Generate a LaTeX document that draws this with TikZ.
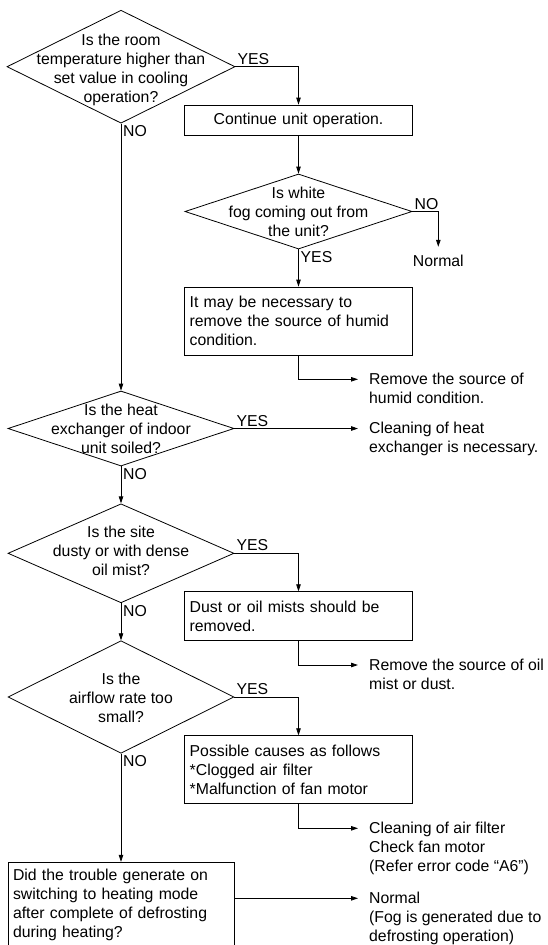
\documentclass[tikz,border=0pt]{standalone}
\usepackage{fontspec}
\setmainfont{Liberation Sans}
\usetikzlibrary{arrows.meta,shapes.geometric}

\newcommand{\fsize}{\fontsize{15.8}{19}\selectfont}

\begin{document}
\begin{tikzpicture}[
    x=1pt, y=-1pt,
    decide/.style={diamond, draw, line width=0.8pt, inner sep=0pt, minimum width=226pt},
    qtext/.style={align=center, font=\fsize, inner sep=0pt},
    stepbox/.style={rectangle, draw, line width=0.8pt, inner sep=5pt, text width=217.6pt, align=left, font=\fsize},
    result/.style={anchor=north west, align=left, font=\fsize, inner sep=0pt},
    yesno/.style={font=\fsize, inner sep=2pt},
    arrow/.style={-{Triangle[length=7pt,width=4.5pt]}, line width=0.8pt}
]
\useasboundingbox (0,0) rectangle (547,945);
\clip (0,0) rectangle (547,945);

% questions, left column
\node[decide, minimum width=228pt, minimum height=113pt] (room) at (121,66.7) {};
\node[qtext] (roomtxt) at (121,70) {Is the room\\temperature higher than\\set value in cooling\\operation?};
\node[decide, minimum height=75pt] (hex) at (121,428.5) {};
\node[qtext] (hextxt) at (hex) {Is the heat\\exchanger of indoor\\unit soiled?};
\node[decide, minimum height=99pt] (dust) at (121,553.3) {};
\node[qtext] (dusttxt) at (121,550.7) {Is the site\\dusty or with dense\\oil mist?};
\node[decide, minimum height=112.6pt] (flow) at (121,697) {};
\node[qtext] (flowtxt) at (121,698.3) {Is the\\airflow rate too\\small?};
\node[stepbox, text width=216pt, minimum height=86pt] (defrost) at (121,905.2) {Did the trouble generate on\\switching to heating mode\\after complete of defrosting\\during heating?};

% right column
\node[stepbox, align=center, minimum height=30pt] (cont) at (298.5,120) {Continue unit operation.};
\node[decide, minimum width=227pt, minimum height=75pt] (fog) at (298.5,211.5) {};
\node[qtext] (fogtxt) at (fog) {Is white\\fog coming out from\\the unit?};
\node[stepbox, minimum height=68pt] (humid) at (298.5,321) {It may be necessary to\\remove the source of humid\\condition.};
\node[stepbox, minimum height=49pt] (oil) at (298.5,616.2) {Dust or oil mists should be\\removed.};
\node[stepbox, minimum height=67.6pt] (causes) at (298.5,769.5) {Possible causes as follows\\{*}Clogged air filter\\{*}Malfunction of fan motor};

% results
\node[result, anchor=north] (normalA) at (438.3,255.3) {Normal};
\node[result] (rmhumid) at (369,373.3) {Remove the source of\\humid condition.};
\node[result] (cleanhex) at (369,422.3) {Cleaning of heat\\exchanger is necessary.};
\node[result] (rmoil) at (369,659) {Remove the source of oil\\mist or dust.};
\node[result] (cleanfilter) at (369,822.3) {Cleaning of air filter\\Check fan motor\\(Refer error code “A6”)};
\node[result] (normalB) at (369,892.3) {Normal\\(Fog is generated due to\\defrosting operation)};

% yes / no
\node[yesno, anchor=south west] (yes1) at (room.east) {YES};
\node[yesno, anchor=north west] (no1) at (room.south) {NO};
\node[yesno, anchor=south west] (no2) at (fog.east) {NO};
\node[yesno, anchor=north west] (yes2) at (fog.south) {YES};
\node[yesno, anchor=south west] (yes3) at (hex.east) {YES};
\node[yesno, anchor=north west] (no3) at (hex.south) {NO};
\node[yesno, anchor=south west] (yes4) at (dust.east) {YES};
\node[yesno, anchor=north west] (no4) at (dust.south) {NO};
\node[yesno, anchor=south west] (yes5) at (flow.east) {YES};
\node[yesno, anchor=north west] (no5) at (flow.south) {NO};

\draw[arrow] (room.south) -- (hex.north);
\draw[arrow] (hex.south) -- (dust.north);
\draw[arrow] (dust.south) -- (flow.north);
\draw[arrow] (flow.south) -- (defrost.north);
\draw[arrow] (room.east) -| (cont.north);
\draw[arrow] (cont.south) -- (fog.north);
\draw[arrow, shorten >=8.5pt] (fog.east) -| (normalA.north);
\draw[arrow] (fog.south) -- (humid.north);
\draw[arrow, shorten >=11pt] (humid.south) |- ([yshift=-6pt]rmhumid.north west);
\draw[arrow, shorten >=11pt] (hex.east) -- (hex.east -| cleanhex.west);
\draw[arrow] (dust.east) -| (oil.north);
\draw[arrow, shorten >=11pt] (oil.south) |- ([yshift=-6pt]rmoil.north west);
\draw[arrow] (flow.east) -| (causes.north);
\draw[arrow, shorten >=11pt] (causes.south) |- ([yshift=-6pt]cleanfilter.north west);
\draw[arrow, shorten >=11pt] ([yshift=-6pt]defrost.east |- normalB.north west) -- ([yshift=-6pt]normalB.north west);
\end{tikzpicture}
\end{document}
